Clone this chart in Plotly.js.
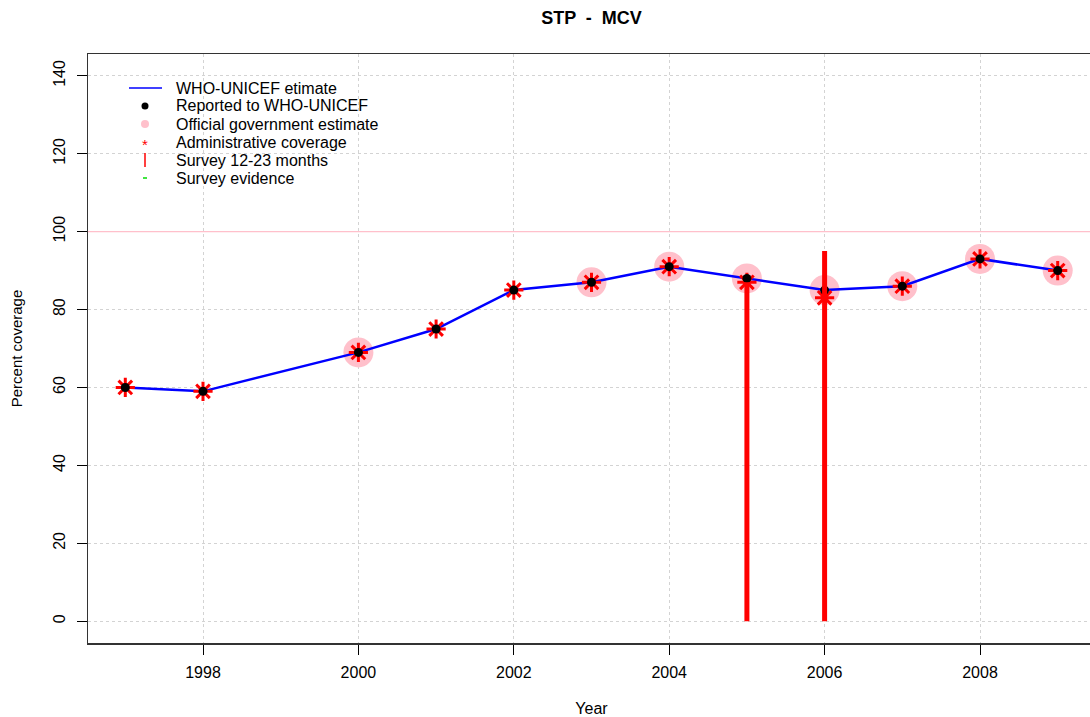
<!DOCTYPE html>
<html>
<head>
<meta charset="utf-8">
<script src="https://cdn.plot.ly/plotly-3.0.1.min.js"></script>
<style>
html,body{margin:0;padding:0;overflow:hidden;background:#fff;}
#chart{width:1100px;height:717px;}
</style>
</head>
<body>
<div id="chart"></div>
<script>
// Data
var years = [1997, 1998, 2000, 2001, 2002, 2003, 2004, 2005, 2006, 2007, 2008, 2009];
var estimate = [60, 59, 69, 75, 85, 87, 91, 88, 85, 86, 93, 90];
var reported = [60, 59, 69, 75, 85, 87, 91, 88, 85, 86, 93, 90];
var officialYears = [2000, 2003, 2004, 2005, 2006, 2007, 2008, 2009];
var official = [69, 87, 91, 88, 85, 86, 93, 90];
var adminYears = [1997, 1998, 2000, 2001, 2002, 2003, 2004, 2005, 2006, 2007, 2008, 2009];
var admin = [60, 59, 69, 75, 85, 87, 91, 87, 83, 86, 93, 90];
var surveyYears = [2005, 2006];
var survey = [87, 95];
var xTicks = [1998, 2000, 2002, 2004, 2006, 2008];
var yTicks = [0, 20, 40, 60, 80, 100, 120, 140];
var legendLabels = ['WHO-UNICEF etimate', 'Reported to WHO-UNICEF', 'Official government estimate',
                    'Administrative coverage', 'Survey 12-23 months', 'Survey evidence'];

var FONT = '"Liberation Sans", Arial, Helvetica, sans-serif';

// plot area geometry (pixels) used for placing the hand-made legend
var M = {l: 88, r: 5, t: 54, b: 74}, W = 1100, H = 717;
var PW = W - M.l - M.r, PH = H - M.t - M.b;
function px(x) { return (x - M.l) / PW; }
function py(y) { return (H - M.b - y) / PH; }

// survey vertical bars from 0 to value
var sx = [], sy = [];
for (var i = 0; i < surveyYears.length; i++) {
  sx.push(surveyYears[i], surveyYears[i], null);
  sy.push(0, survey[i], null);
}

var traces = [
  {x: officialYears, y: official, mode: 'markers', name: legendLabels[2],
   marker: {color: 'pink', size: 30}},
  {x: years, y: estimate, mode: 'lines', name: legendLabels[0],
   line: {color: 'blue', width: 2.5}},
  {x: adminYears, y: admin, mode: 'markers', name: legendLabels[3],
   marker: {symbol: 'asterisk-open', size: 16, color: 'red', line: {color: 'red', width: 3}}},
  {x: years, y: reported, mode: 'markers', name: legendLabels[1],
   marker: {color: 'black', size: 9}},
  {x: sx, y: sy, mode: 'lines', name: legendLabels[4],
   line: {color: 'red', width: 5}}
];

// hand-made legend in the R style (pch characters)
var rowY = [88, 106, 124, 142, 160, 178];
var symX = 145, textX = 174;
var annotations = [];
var shapes = [
  {type: 'line', xref: 'paper', x0: 0, x1: 1, yref: 'y', y0: 100, y1: 100,
   line: {color: 'pink', width: 1.3}, layer: 'above'},
  {type: 'line', xref: 'paper', yref: 'paper', x0: px(129), x1: px(162), y0: py(rowY[0]), y1: py(rowY[0]),
   line: {color: 'blue', width: 1.5}},
  {type: 'circle', xref: 'paper', yref: 'paper', xsizemode: 'pixel', ysizemode: 'pixel',
   xanchor: px(symX), yanchor: py(rowY[1]), x0: -3.5, x1: 3.5, y0: -3.5, y1: 3.5,
   fillcolor: 'black', line: {width: 0}},
  {type: 'circle', xref: 'paper', yref: 'paper', xsizemode: 'pixel', ysizemode: 'pixel',
   xanchor: px(symX), yanchor: py(rowY[2]), x0: -4, x1: 4, y0: -4, y1: 4,
   fillcolor: 'pink', line: {width: 0}},
  {type: 'line', xref: 'paper', yref: 'paper', x0: px(symX), x1: px(symX),
   y0: py(rowY[4] - 7), y1: py(rowY[4] + 7), line: {color: 'red', width: 1.5}},
  {type: 'line', xref: 'paper', yref: 'paper', x0: px(symX - 2), x1: px(symX + 2),
   y0: py(rowY[5]), y1: py(rowY[5]), line: {color: '#00dd00', width: 1.5}}
];
annotations.push({xref: 'paper', yref: 'paper', x: px(symX), y: py(rowY[3] + 2), text: '*',
  showarrow: false, xanchor: 'center', yanchor: 'middle', font: {family: FONT, size: 15, color: 'red'}});
for (var k = 0; k < legendLabels.length; k++) {
  annotations.push({xref: 'paper', yref: 'paper', x: px(textX), y: py(rowY[k]), text: legendLabels[k],
    showarrow: false, xanchor: 'left', yanchor: 'middle', font: {family: FONT, size: 16, color: '#000'}});
}

var layout = {
  width: W, height: H,
  margin: M,
  paper_bgcolor: '#fff', plot_bgcolor: '#fff',
  font: {family: FONT, size: 16, color: '#000'},
  title: {text: '<b>STP  -  MCV</b>', x: 0.5, xref: 'paper', y: 0.975, yanchor: 'middle',
          font: {family: FONT, size: 18, color: '#000'}},
  showlegend: false,
  xaxis: {
    range: [1996.52, 2009.48], tickmode: 'array', tickvals: xTicks, ticktext: xTicks.map(String),
    ticks: 'outside', ticklen: 10, tickcolor: '#000', tickwidth: 1, ticklabelstandoff: 4,
    showline: true, linecolor: '#333', linewidth: 1.5, mirror: true,
    showgrid: true, gridcolor: '#d3d3d3', griddash: 'dot', gridwidth: 1, zeroline: false,
    title: {text: 'Year', standoff: 27, font: {family: FONT, size: 16}},
    tickfont: {family: FONT, size: 16}
  },
  yaxis: {
    range: [-5.6, 145.6], tickmode: 'array', tickvals: yTicks, ticktext: yTicks.map(String),
    ticks: 'outside', ticklen: 10, tickcolor: '#000', tickwidth: 1, tickangle: -90, ticklabelstandoff: 5,
    showline: true, linecolor: '#333', linewidth: 1.5, mirror: true,
    showgrid: true, gridcolor: '#d3d3d3', griddash: 'dot', gridwidth: 1, zeroline: false,
    title: {text: 'Percent coverage', standoff: 25, font: {family: FONT, size: 15}},
    tickfont: {family: FONT, size: 16}
  },
  shapes: shapes,
  annotations: annotations
};

Plotly.newPlot('chart', traces, layout, {displayModeBar: false, staticPlot: true});
</script>
</body>
</html>
